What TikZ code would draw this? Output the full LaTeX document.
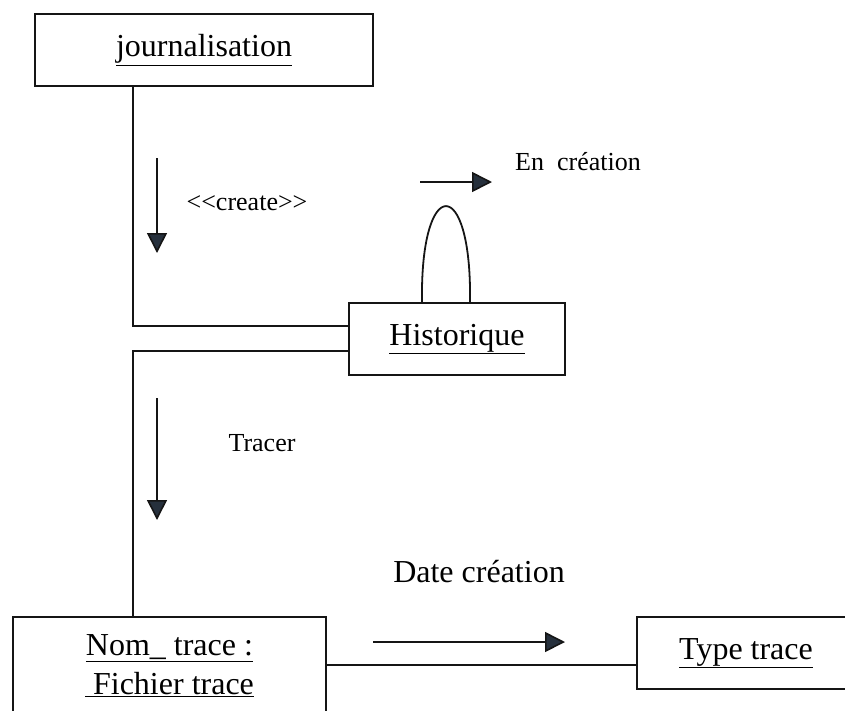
\documentclass[tikz,border=0pt]{standalone}
\usepackage{fontspec}
\setmainfont{Liberation Serif}
\usetikzlibrary{arrows.meta,calc}
\definecolor{inkline}{HTML}{151515}
\definecolor{headfill}{HTML}{26303C}
\begin{document}
\begin{tikzpicture}[x=1pt,y=-1pt,
  line width=1.8pt, draw=inkline,
  objbox/.style={draw, rectangle, inner sep=0pt, align=center,
    font=\fontsize{32}{39}\selectfont},
  msgarrow/.style={line width=1.6pt, -{Triangle[length=20pt,width=20pt,fill=headfill]}},
  msglabel/.style={inner sep=0pt, font=\fontsize{26}{30}\selectfont},
  link/.style={line width=1.8pt}]
  \useasboundingbox (0,0) rectangle (845,710);

  % objects
  \node[objbox, minimum width=338pt, minimum height=72pt] (jour) at (204,50)
    {\underline{journalisation}};
  \node[objbox, minimum width=216pt, minimum height=72pt] (hist) at (457,339)
    {\underline{Historique}};
  \node[objbox, minimum width=313pt, minimum height=98pt] (nom) at (169.5,666)
    {\underline{Nom\_\ trace :}\\ \underline{\ Fichier trace}};
  \node[objbox, minimum width=218pt, minimum height=72pt] (type) at (746,653)
    {\underline{Type trace}};

  % links between objects
  \coordinate (rail) at (133,0);
  \draw[link] (jour.south -| rail) |- ($(hist.west)+(0,-13)$);
  \draw[link] ($(hist.west)+(0,12)$) -| (nom.north -| rail);
  \draw[link] (nom.east |- 0,665) -- (type.west |- 0,665);
  \draw[link] ($(hist.north)+(-35,0)$) .. controls ($(hist.north)+(-37,-128)$)
    and ($(hist.north)+(15,-128)$) .. ($(hist.north)+(13,0)$);

  % messages
  \coordinate (createA) at (157,158);
  \coordinate (createB) at (157,253);
  \draw[msgarrow] (createA) -- (createB);
  \node[msglabel] (createlbl) at (247,203) {<\kern0pt<create>\kern0pt>};

  \coordinate (tracerA) at (157,398);
  \coordinate (tracerB) at (157,520);
  \draw[msgarrow] (tracerA) -- (tracerB);
  \node[msglabel] (tracerlbl) at (262,443) {Tracer};

  \coordinate (enA) at (420,182);
  \coordinate (enB) at (492,182);
  \draw[msgarrow] (enA) -- (enB);
  \node[msglabel] (enlbl) at (578,162) {En\ \ création};

  \coordinate (dateA) at (373,642);
  \coordinate (dateB) at (565,642);
  \draw[msgarrow] (dateA) -- (dateB);
  \node[msglabel, font=\fontsize{32}{38}\selectfont] (datelbl) at (479,572) {Date création};
\end{tikzpicture}
\end{document}
